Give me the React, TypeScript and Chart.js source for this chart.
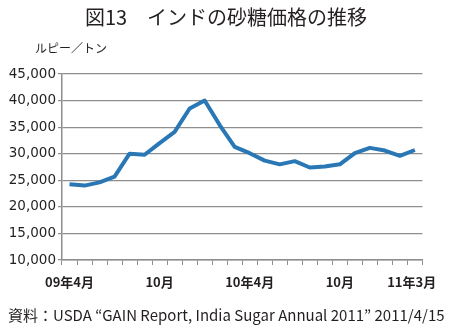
import React, { useEffect, useRef } from "react";
import { Chart, registerables } from "chart.js";

Chart.register(...registerables);

const months = [
  "2009-04", "2009-05", "2009-06", "2009-07", "2009-08", "2009-09",
  "2009-10", "2009-11", "2009-12", "2010-01", "2010-02", "2010-03",
  "2010-04", "2010-05", "2010-06", "2010-07", "2010-08", "2010-09",
  "2010-10", "2010-11", "2010-12", "2011-01", "2011-02", "2011-03",
];

const xTickLabels = [
  "09年4月", "", "", "", "", "",
  "10月", "", "", "", "", "",
  "10年4月", "", "", "", "", "",
  "10月", "", "", "", "", "11年3月\u2002",
];

const sugarPrice = [
  24250, 24000, 24600, 25700, 30000, 29800,
  32000, 34100, 38500, 40000, 35400, 31300,
  30100, 28700, 28000, 28600, 27400, 27600,
  28000, 30100, 31100, 30600, 29600, 30700,
];

const yMin = 10000;
const yMax = 45000;
const yStep = 5000;

const TEXT = "#231f20";
const GRID = "#8e8e8e";
const LINE = "#2a77b5";

export default function App() {
  const ref = useRef<HTMLCanvasElement | null>(null);

  useEffect(() => {
    if (!ref.current) return;
    const chart = new Chart(ref.current, {
      type: "line",
      data: {
        labels: months,
        datasets: [
          {
            data: sugarPrice,
            borderColor: LINE,
            borderWidth: 4,
            pointRadius: 0,
            tension: 0,
            fill: false,
            borderJoinStyle: "round",
          },
        ],
      },
      options: {
        animation: false,
        responsive: false,
        maintainAspectRatio: false,
        layout: { padding: { top: 74, right: 17, bottom: 0, left: 0 } },
        plugins: {
          legend: { display: false },
          tooltip: { enabled: false },
          title: { display: false },
        },
        scales: {
          x: {
            type: "category",
            offset: true,
            afterFit: (s: any) => {
              s.height = 69;
            },
            grid: {
              display: true,
              offset: true,
              drawOnChartArea: false,
              drawTicks: true,
              tickLength: 5,
              color: GRID,
              lineWidth: 1,
            },
            border: { display: true, color: GRID, width: 1.5 },
            ticks: {
              autoSkip: false,
              maxRotation: 0,
              minRotation: 0,
              padding: 9,
              color: TEXT,
              font: { family: "'Noto Sans CJK JP'", size: 13, weight: "bold" },
              callback: (_v: any, i: number) => xTickLabels[i],
            },
          },
          y: {
            min: yMin,
            max: yMax,
            afterFit: (s: any) => {
              s.width = 62;
            },
            grid: {
              color: GRID,
              lineWidth: 1.2,
              drawTicks: true,
              tickLength: 4,
            },
            border: { display: true, color: GRID, width: 1.5 },
            ticks: {
              stepSize: yStep,
              padding: 2,
              color: TEXT,
              font: { family: "'DejaVu Sans'", size: 13.5 },
              callback: (v: any) => Number(v).toLocaleString("en-US"),
            },
          },
        },
      },
    });
    return () => chart.destroy();
  }, []);

  return (
    <div style={{ position: "absolute", left: 0, top: 0, width: 452, height: 329, background: "#fff" }}>
      <canvas ref={ref} width={452} height={329} style={{ position: "absolute", left: 0, top: 0 }} />
      <div
        style={{
          position: "absolute", left: 0, top: 3, width: 452, textAlign: "center",
          fontFamily: "'Noto Sans CJK JP'", fontSize: 20, color: TEXT, lineHeight: "28px",
        }}
      >
        図13　インドの砂糖価格の推移
      </div>
      <div
        style={{
          position: "absolute", left: 35, top: 40, fontFamily: "'Noto Sans CJK JP'",
          fontSize: 12, color: TEXT, lineHeight: "16px", whiteSpace: "nowrap",
        }}
      >
        ルピー／トン
      </div>
      <div
        style={{
          position: "absolute", left: 8, top: 304, fontFamily: "'Noto Sans CJK JP'",
          fontSize: 15, color: TEXT, lineHeight: "22px", whiteSpace: "nowrap",
        }}
      >
        資料：USDA “GAIN Report, India Sugar Annual 2011” 2011/4/15
      </div>
    </div>
  );
}
